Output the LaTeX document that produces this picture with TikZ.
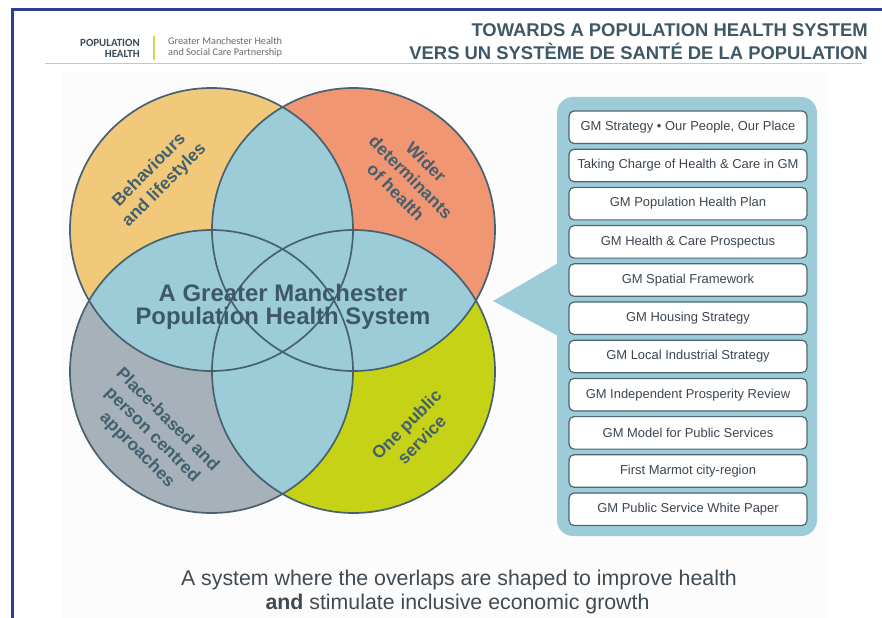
\documentclass[tikz,border=0pt]{standalone}
\usepackage{fontspec}
\setmainfont{Liberation Sans}
\newfontfamily\calibri{Carlito}
\definecolor{frameblue}{HTML}{2F3E8E}
\definecolor{hdrgreen}{HTML}{CFD955}
\definecolor{titlecol}{HTML}{3F5866}
\definecolor{logodark}{HTML}{3A4A56}
\definecolor{logogrey}{HTML}{6A6A6A}
\definecolor{bgpale}{HTML}{FCFCFC}
\definecolor{cyellow}{HTML}{F2C97A}
\definecolor{corange}{HTML}{F09673}
\definecolor{cgrey}{HTML}{A7B1BA}
\definecolor{cgreen}{HTML}{C6D216}
\definecolor{cblue}{HTML}{9DCCD9}
\definecolor{outl}{HTML}{48616E}
\definecolor{venntext}{HTML}{43606F}
\definecolor{boxline}{HTML}{4F6470}
\definecolor{boxtext}{HTML}{3B4650}
\definecolor{captext}{HTML}{3F4A52}
\tikzset{
  ring/.style={draw=outl, line width=1.7bp},
  petaltext/.style={font=\bfseries\fontsize{17.5}{21.5}\selectfont, text=venntext, align=center, inner sep=0pt},
  itembox/.style={draw=boxline, line width=1.2bp, fill=white, rounded corners=5bp,
    minimum width=238bp, minimum height=32.5bp, inner sep=0pt,
    font=\fontsize{13}{15}\selectfont, text=boxtext},
  titletext/.style={font=\bfseries\fontsize{18.5}{20}\selectfont, text=titlecol, anchor=base east, inner sep=0pt},
  captiontext/.style={font=\fontsize{21.4}{24}\selectfont, text=captext, anchor=base, inner sep=0pt},
  logobold/.style={font=\calibri\bfseries\fontsize{11}{12}\selectfont, text=logodark, anchor=base east, inner sep=0pt},
  logoplain/.style={font=\calibri\fontsize{10.3}{11}\selectfont, text=logogrey, anchor=base west, inner sep=0pt},
}
\begin{document}
\begin{tikzpicture}[x=1bp,y=-1bp]
\useasboundingbox (0,0) rectangle (882,618);
\fill[white] (0,0) rectangle (882,618);
\fill[bgpale] (62,72) rectangle (828,618);
% frame
\draw[frameblue, line width=2.2bp] (12.5,618) -- (12.5,9.5) -- (882,9.5);
% header logo
\node[logobold] (pop) at (140,47) {POPULATION};
\node[logobold] (hea) at (140,58) {HEALTH};
\draw[hdrgreen, line width=1.2bp] (154,36) -- (154,60);
\node[logoplain] (gm1) at (168,45) {Greater Manchester Health};
\node[logoplain] (gm2) at (168,55.5) {and Social Care Partnership};
\draw[hdrgreen, line width=1.4bp] (45,63.5) -- (862,63.5);
% titles
\node[titletext] (t1) at (868,37) {TOWARDS A POPULATION HEALTH SYSTEM};
\node[titletext] (t2) at (868,60) {VERS UN SYSTÈME DE SANTÉ DE LA POPULATION};
% venn
\def\R{141.5bp}
\coordinate (TL) at (211.5,229.5);
\coordinate (TR) at (353.5,229.5);
\coordinate (BL) at (211.5,371.5);
\coordinate (BR) at (353.5,371.5);
\fill[cyellow] (TL) circle[radius=\R];
\fill[corange] (TR) circle[radius=\R];
\fill[cgrey] (BL) circle[radius=\R];
\fill[cgreen] (BR) circle[radius=\R];
\begin{scope}
  \clip (TL) circle[radius=\R];
  \fill[cblue] (TR) circle[radius=\R] (BL) circle[radius=\R] (BR) circle[radius=\R];
\end{scope}
\begin{scope}
  \clip (TR) circle[radius=\R];
  \fill[cblue] (BL) circle[radius=\R] (BR) circle[radius=\R];
\end{scope}
\begin{scope}
  \clip (BL) circle[radius=\R];
  \fill[cblue] (BR) circle[radius=\R];
\end{scope}
\draw[ring] (TL) circle[radius=\R];
\draw[ring] (TR) circle[radius=\R];
\draw[ring] (BL) circle[radius=\R];
\draw[ring] (BR) circle[radius=\R];
% petal labels
\node[petaltext, rotate=45] (beh) at (157,178) {Behaviours\\and lifestyles};
\node[petaltext, rotate=-45] (wid) at (411,177) {Wider\\determinants\\of health};
\node[petaltext, rotate=-45] (pla) at (152,435) {Place-based and\\person centred\\approaches};
\node[petaltext, rotate=45] (one) at (414,432) {One public\\service};
\node[font=\bfseries\fontsize{24}{23}\selectfont, text=titlecol, align=center, inner sep=0pt] (sys) at (283,307) {A Greater Manchester\\Population Health System};
% panel
\fill[cblue, rounded corners=16bp] (557,97) rectangle (817,536);
\fill[cblue] (560,262) -- (493,301) -- (560,337) -- cycle;
\foreach \t [count=\i from 0] in {
  {GM Strategy • Our People, Our Place},
  {Taking Charge of Health \& Care in GM},
  {GM Population Health Plan},
  {GM Health \& Care Prospectus},
  {GM Spatial Framework},
  {GM Housing Strategy},
  {GM Local Industrial Strategy},
  {GM Independent Prosperity Review},
  {GM Model for Public Services},
  {First Marmot city-region},
  {GM Public Service White Paper}}
  \node[itembox] (b\i) at (688,{127.25+38.2*\i}) {\t};
% caption
\node[captiontext] (cap1) at (459,585.5) {A system where the overlaps are shaped to improve health};
\node[captiontext] (cap2) at (457.5,609.5) {\textbf{and} stimulate inclusive economic growth};
\end{tikzpicture}
\end{document}
